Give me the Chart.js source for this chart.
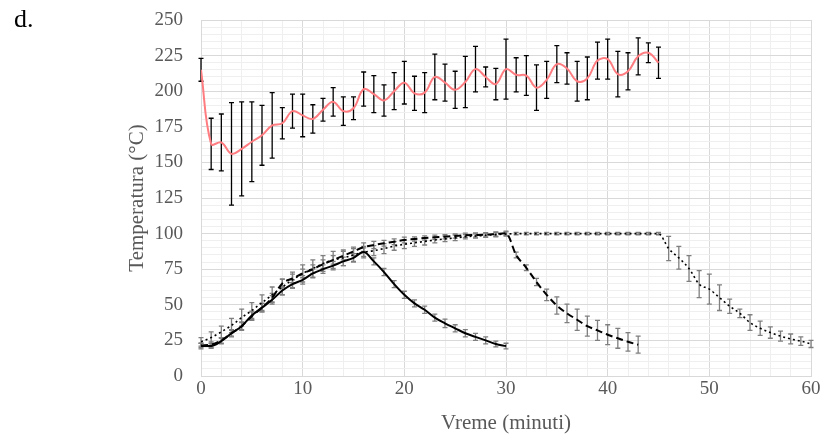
<!DOCTYPE html>
<html>
<head>
<meta charset="utf-8">
<script src="https://cdn.jsdelivr.net/npm/chart.js@4.4.1/dist/chart.umd.min.js"></script>
<style>
  body{margin:0;background:#fff;}
  #wrap{position:relative;width:824px;height:443px;}
  #chart{display:block;}
  #label{position:absolute;left:14px;top:4px;font:26px "Liberation Serif",serif;color:#000;}
</style>
</head>
<body>
<div id="wrap">
  <div id="label">d.</div>
  <canvas id="chart" width="824" height="443"></canvas>
</div>
<script>
/* podaci: temperatura po minutu, od 0 */
const redMean=[215,163,164,156,159.5,164.5,169,176,177.5,186,183,180.5,187,192.5,186,188,201.5,198,193.5,200,206,198.5,199,210,206,201,206.5,215.5,210,205,215.5,211.5,211,202.5,208,219,216,207,209,221.5,222.5,212,214,224.5,227,220];
const redErr=[8,18,20,36,33,28,21,23,11,12,15,10,8,10,10,8,12,13,11,13,15,12,14,16,13,13,18,16,7,11,21,12,14,16,13,13,11,14,15,13,14,16,13,13,7,11];

const solidMean=[21,21,24.5,30,35,42.5,48,53.5,60,64.5,67.5,72,75,77.5,80.5,83,87,80.5,73,64.5,57,51,46.5,41,37,33.5,30,27.5,25,22.5,21];
const solidErr=[2,1.5,2,2,2.5,3,3,3,3,3,3,3,3,3,3,3,3,2.5,2.5,2.5,2.5,2.5,2.5,2.5,3,2.5,2.5,2.5,2.5,2,2];

const dashedMean=[21.5,22,25,30,35,42,48,55,65,68.5,72,75,78.5,81.5,84.5,87.5,90.5,92,93.2,94.3,95.5,96.2,96.9,97.4,97.8,98.3,98.8,99,99.2,99.7,100.2,85,76,66,57,49.5,44,39.5,35,32,29,26.5,24,22];
const dashedErr=[1.5,2,2,2.5,3,3,3,3,3,3,3,3,3,3,3,3,3,2.5,2,2,2,1.5,1.5,1.5,1.5,1.5,1.5,1.5,1.5,1.5,1.5,2,2,2.5,4,6,6.5,7.5,7,7,7,7,6.5,6];

const dottedMean=[24,27,31,35.5,41,46,51.5,57,62.5,67.5,72,75.5,79,81.5,83,85,87,88,89.5,91.3,92.5,93.5,94.5,95.5,96.3,97,97.8,98.3,98.8,99.3,99.7,
  100,100,100,100,100,100,100,100,100,100,100,100,100,100,100,
  89.5,83,75.5,64.5,61,55,49,44,37.5,33.5,30.5,28,26,24.5,22.5];
const dottedErr=[3,4,4,5,6,5.5,5.5,5.5,5.5,5.5,6,6,5.5,6,5.5,4.5,4,3.5,3.5,3,3,2.5,2.5,2,2,2,1.5,1.5,1.5,1.5,1.5,
  0.8,0.8,0.8,0.8,0.8,0.8,0.8,0.8,0.8,0.8,0.8,0.8,0.8,0.8,0.8,
  8.5,8,9,9.5,10.5,9,5,3,5.5,5,4,3.5,3.5,3,2.5];

const FONT="'Liberation Serif', 'Times New Roman', serif";
const GRID_MAJOR="#d9d9d9";
const GRID_MINOR="#efefef";

function toPoints(means){
  return means.map((v,i)=>({x:i,y:v}));
}

/* error bars crtamo preko skala */
const errorBars={
  id:"errorBars",
  beforeDatasetsDraw(chart){
    const {ctx,scales:{x,y}}=chart;
    chart.data.datasets.forEach(ds=>{
      if(!ds.errors) return;
      ctx.save();
      ctx.strokeStyle=ds.errorColor;
      ctx.lineWidth=1.3;
      ds.data.forEach((p,j)=>{
        const e=ds.errors[j];
        const px=x.getPixelForValue(p.x);
        const top=y.getPixelForValue(p.y+e);
        const bot=y.getPixelForValue(p.y-e);
        ctx.beginPath();
        ctx.moveTo(px,top);ctx.lineTo(px,bot);
        ctx.moveTo(px-2.5,top);ctx.lineTo(px+2.5,top);
        ctx.moveTo(px-2.5,bot);ctx.lineTo(px+2.5,bot);
        ctx.stroke();
      });
      ctx.restore();
    });
  }
};

new Chart(document.getElementById("chart"),{
  type:"line",
  data:{
    datasets:[
      {data:toPoints(solidMean),errors:solidErr,errorColor:"#7f7f7f",borderColor:"#000",borderWidth:2,cubicInterpolationMode:"monotone"},
      {data:toPoints(dashedMean),errors:dashedErr,errorColor:"#7f7f7f",borderColor:"#000",borderWidth:2,borderDash:[7,4],cubicInterpolationMode:"monotone"},
      {data:toPoints(dottedMean),errors:dottedErr,errorColor:"#7f7f7f",borderColor:"#000",borderWidth:1.6,borderDash:[2,3],cubicInterpolationMode:"monotone"},
      {data:toPoints(redMean),errors:redErr,errorColor:"#000",borderColor:"#ff7c80",borderWidth:2,tension:0.4}
    ]
  },
  options:{
    responsive:false,
    animation:false,
    events:[],
    layout:{padding:{left:110,top:20,right:13,bottom:0}},
    elements:{point:{radius:0}},
    plugins:{legend:{display:false},tooltip:{enabled:false}},
    scales:{
      x:{
        type:"linear",min:0,max:60,
        afterFit:s=>{s.height=67;s.paddingLeft=0;s.paddingRight=0;},
        border:{color:GRID_MAJOR},
        grid:{drawTicks:false,color:c=>c.tick&&c.tick.value%10===0?GRID_MAJOR:GRID_MINOR},
        ticks:{stepSize:2,autoSkip:false,maxRotation:0,minRotation:0,padding:2,color:"#595959",font:{family:FONT,size:19},
          callback:v=>v%10===0?v:""},
        title:{display:true,text:"Vreme (minuti)",color:"#595959",font:{family:FONT,size:21},padding:{top:0,bottom:7}}
      },
      y:{
        min:0,max:250,
        afterFit:s=>{s.width=91;s.paddingTop=0;s.paddingBottom=0;},
        border:{color:GRID_MAJOR},
        grid:{drawTicks:false,color:c=>c.tick&&c.tick.value%25===0?GRID_MAJOR:GRID_MINOR},
        ticks:{stepSize:5,autoSkip:false,padding:18,color:"#595959",font:{family:FONT,size:19},
          callback:v=>v%25===0?v:""},
        title:{display:true,text:"Temperatura (°C)",color:"#595959",font:{family:FONT,size:21},padding:{top:15,bottom:0}}
      }
    }
  },
  plugins:[errorBars]
});
</script>
</body>
</html>
